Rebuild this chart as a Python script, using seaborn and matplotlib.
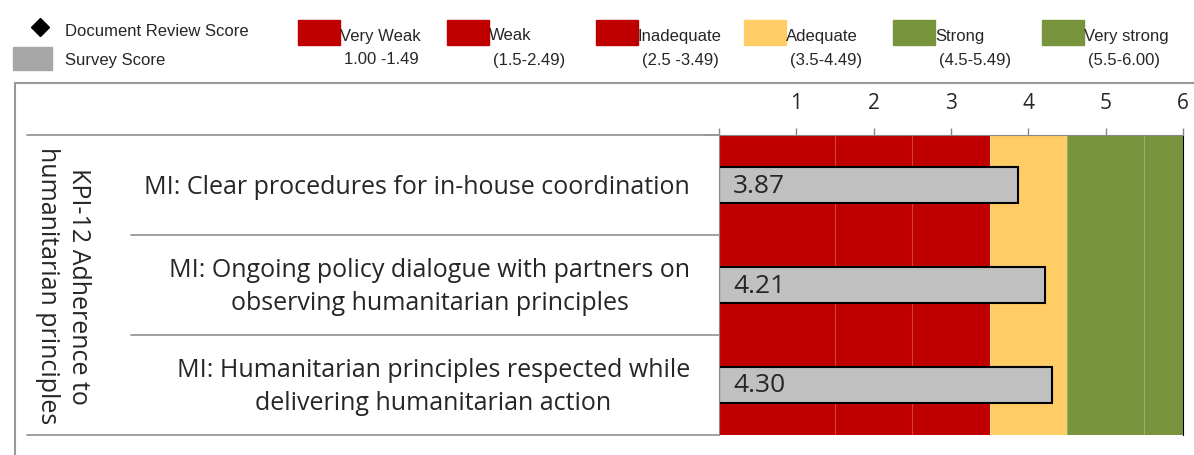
import matplotlib.pyplot as plt
import seaborn as sns
import pandas as pd
from matplotlib.lines import Line2D
from matplotlib.patches import Rectangle

# data
kpi_label = "KPI-12 Adherence to\nhumanitarian principles"
indicators = [
    "MI: Clear procedures for in-house coordination",
    "MI: Ongoing policy dialogue with partners on\nobserving humanitarian principles",
    "MI: Humanitarian principles respected while\ndelivering humanitarian action",
]
survey_scores = [3.87, 4.21, 4.30]

band_names = ["Very Weak", "Weak", "Inadequate", "Adequate", "Strong", "Very strong"]
band_ranges = ["1.00 -1.49", "(1.5-2.49)", "(2.5 -3.49)", "(3.5-4.49)", "(4.5-5.49)", "(5.5-6.00)"]
band_edges = [0, 1.5, 2.5, 3.5, 4.5, 5.5, 6.0]
band_colors = ["#C00000", "#C00000", "#C00000", "#FFCC66", "#77933C", "#77933C"]

tick_values = [0, 1, 2, 3, 4, 5, 6]

W, H = 1194, 455
narrow = ["Open Sans", "DejaVu Sans"]
arial = ["Liberation Sans", "DejaVu Sans"]


def fx(px):
    return px / W


def fy(py):
    return 1 - py / H


sns.set_style("white")
fig = plt.figure(figsize=(W / 100, H / 100), dpi=100)
ax = fig.add_axes([fx(719), fy(435), fx(1183) - fx(719), fy(135) - fy(435)])

# background rating bands
for lo, hi, c in zip(band_edges[:-1], band_edges[1:], band_colors):
    ax.axvspan(lo, hi, color=c, lw=0, zorder=0)
for e in band_edges[1:-1]:
    ax.axvline(e, color=(1, 1, 1, 0.25), lw=0.8, zorder=0.5)

df = pd.DataFrame({"indicator": indicators, "score": survey_scores})
sns.barplot(data=df, x="score", y="indicator", orient="h", color="#C0C0C0",
            width=0.36, edgecolor="black", linewidth=1.5, saturation=1, ax=ax, zorder=2)
for i, v in enumerate(survey_scores):
    ax.text(0.18, i + 0.01, f"{v:.2f}", va="center", ha="left", fontsize=19,
            family=narrow, zorder=3)

ax.set_xlim(0, 6)
ax.set_ylim(2.5, -0.5)
ax.xaxis.tick_top()
ax.set_xticks(tick_values)
ax.set_xticklabels(["" if t == 0 else str(t) for t in tick_values], fontsize=15, family=narrow)
ax.tick_params(axis="x", which="both", top=True, length=5, width=1, color="#888888", pad=10)
ax.set_yticks([])
ax.set_xlabel("")
ax.set_ylabel("")
ax.spines["bottom"].set_visible(False)
ax.spines["top"].set_color("#888888")
ax.spines["left"].set_color("#888888")
ax.spines["right"].set_color("black")

# table lines on the left
gray = "#999999"
for py, x0 in [(135, 27), (235, 131), (335, 131), (435, 27)]:
    fig.add_artist(Line2D([fx(x0), fx(719)], [fy(py), fy(py)], color=gray, lw=1.3))
fig.add_artist(Line2D([fx(705), fx(719)], [fy(135), fy(135)], color=gray, lw=1.3))

# outer frame
fig.add_artist(Line2D([fx(15), fx(15)], [fy(83), 0], color="#999999", lw=1.5))
fig.add_artist(Line2D([fx(15), 1], [fy(83), fy(83)], color="#999999", lw=1.5))

# row labels
for i, lab in enumerate(indicators):
    fig.text(fx(690), fy(187 + 100 * i), lab, ha="right", va="center", fontsize=18,
             family=narrow, multialignment="center", linespacing=1.4)
fig.text(fx(63), fy(286), kpi_label, rotation=270, ha="center", va="center",
         fontsize=18, family=narrow, multialignment="center", linespacing=1.3)

# legend
fig.add_artist(Line2D([fx(40)], [fy(27)], marker="D", color="black", markersize=9, ls=""))
fig.text(fx(65), fy(31), "Document Review Score", fontsize=12, family=arial, va="center")
fig.add_artist(Rectangle((fx(13), fy(70)), fx(52) - fx(13), fy(47) - fy(70), color="#A6A6A6"))
fig.text(fx(65), fy(60), "Survey Score", fontsize=12, family=arial, va="center")
for k, (name, rng, c) in enumerate(zip(band_names, band_ranges, band_colors)):
    x0 = 298 + 148.8 * k
    fig.add_artist(Rectangle((fx(x0), fy(45)), fx(42), fy(20) - fy(45), color=c))
    fig.text(fx(x0 + 42), fy(36), name, fontsize=12, family=arial, va="center")
    fig.text(fx(x0 + 46), fy(60), rng, fontsize=12, family=arial, va="center")

fig.savefig("out.png", dpi=100)
